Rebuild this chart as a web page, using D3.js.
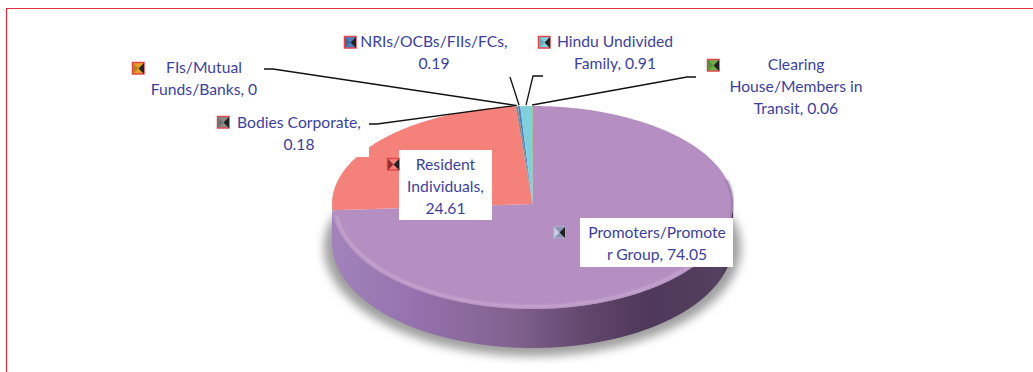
<!DOCTYPE html>
<html>
<head>
<meta charset="utf-8">
<style>
  html, body { margin: 0; padding: 0; background: #fff; }
  svg { display: block; }
  text { font-family: Lato, "Open Sans", sans-serif; }
</style>
<script src="https://cdn.jsdelivr.net/npm/d3@7"></script>
</head>
<body>
<svg id="chart"></svg>
<script>
const categories = ['Promoters/Promoter Group', 'Resident Individuals', 'FIs/Mutual Funds/Banks', 'Bodies Corporate', 'NRIs/OCBs/FIIs/FCs', 'Hindu Undivided Family', 'Clearing House/Members in Transit'];
const values = [74.05, 24.61, 0, 0.18, 0.19, 0.91, 0.06];
const labelLines = [
  ['Promoters/Promote', 'r Group, 74.05'],
  ['Resident', 'Individuals,', '24.61'],
  ['FIs/Mutual', 'Funds/Banks, 0'],
  ['Bodies Corporate,', '0.18'],
  ['NRIs/OCBs/FIIs/FCs,', '0.19'],
  ['Hindu Undivided', 'Family, 0.91'],
  ['Clearing', 'House/Members in', 'Transit, 0.06']
];

const colors = ['#b58fc2', '#f4817a', '#e8a020', '#8a8a8a', '#4f7fbd', '#7fd0dc', '#6fb04a'];
const width = 1033;
const height = 372;

// pie shape, the far half is a bit flatter than the near half
const cx = 532.5, cy = 204, rx = 200.5, ryFar = 98, ryNear = 105, depth = 39;

// layout of the labels: text centre, first baseline, white box, key, leader elbow
const labelLayout = [
  { x: 657, y: 238, box: [580, 218, 153, 49], key: [553, 226] },
  { x: 445.5, y: 170, box: [399, 150, 93, 70], key: [387, 158] },
  { x: 204, y: 73, key: [132, 62], leader: [[264, 69], [273, 69]] },
  { x: 299, y: 128, box: [215, 112, 154, 45], key: [217, 116], leader: [[369, 124], [377, 124]] },
  { x: 434, y: 47, key: [344, 36], leader: [[510, 77]] },
  { x: 615, y: 47, key: [538, 36], leader: [[543, 76], [533, 76]] },
  { x: 796, y: 70, key: [707, 59], leader: [[696, 77], [687, 77]] }
];

const svg = d3.select('#chart').attr('width', width).attr('height', height);
const defs = svg.append('defs');

defs.append('filter').attr('id', 'shadowBlur')
  .attr('filterUnits', 'userSpaceOnUse')
  .attr('x', 280).attr('y', 150).attr('width', 510).attr('height', 222)
  .append('feGaussianBlur').attr('stdDeviation', 5);
defs.append('filter').attr('id', 'blur1')
  .attr('x', '-5%').attr('y', '-20%').attr('width', '110%').attr('height', '140%')
  .append('feGaussianBlur').attr('stdDeviation', 1);
defs.append('filter').attr('id', 'soft')
  .attr('x', '-20%').attr('y', '-20%').attr('width', '140%').attr('height', '140%')
  .append('feGaussianBlur').attr('stdDeviation', 0.5);

const wallGrad = defs.append('linearGradient').attr('id', 'wall');
[[0, '#a283bb'], [0.2, '#9572ae'], [0.45, '#81628f'], [0.62, '#64496f'], [0.78, '#4f3859'], [0.97, '#54405f'], [1, '#3f2f4a']]
  .forEach(s => wallGrad.append('stop').attr('offset', s[0]).attr('stop-color', s[1]));

// angle in radians, clockwise from 12 o'clock
function pt(a, scale = 1, dy = 0) {
  const c = Math.cos(a);
  return [cx + rx * scale * Math.sin(a), cy + dy - (c > 0 ? ryFar : ryNear) * scale * c];
}

function rimPoints(a0, a1, scale = 1, dy = 0) {
  const n = Math.max(2, Math.ceil(Math.abs(a1 - a0) / 0.02));
  return d3.range(n + 1).map(i => pt(a0 + (a1 - a0) * i / n, scale, dy));
}

const line = d3.line();
const arcs = d3.pie().sort(null).value(d => d)(values);

// frame
svg.append('path')
  .attr('d', line([[6.5, height], [6.5, 8.5], [width, 8.5]]))
  .attr('fill', 'none').attr('stroke', '#e2313c').attr('stroke-width', 1.2);

// shadow under the pie
svg.append('path')
  .attr('d', line(rimPoints(Math.PI * 0.4, Math.PI * 1.6, 1.04, depth + 4)) + 'Z')
  .attr('fill', '#777').attr('opacity', 0.7).attr('filter', 'url(#shadowBlur)');

// wall, only the near half shows
const wallTop = rimPoints(Math.PI / 2, Math.PI * 1.5);
const wallBottom = rimPoints(Math.PI * 1.5, Math.PI / 2, 1, depth);
svg.append('path')
  .attr('d', line(wallTop.concat(wallBottom)) + 'Z')
  .attr('fill', 'url(#wall)');

// top face
svg.append('g').selectAll('path')
  .data(arcs)
  .join('path')
  .attr('d', d => line([[cx, cy]].concat(rimPoints(d.startAngle, d.endAngle))) + 'Z')
  .attr('fill', (d, i) => colors[i]);

// bevel highlight along the near rim
svg.append('path')
  .attr('d', line(rimPoints(Math.PI * 0.62, Math.PI * 1.46, 0.985, -1)))
  .attr('fill', 'none').attr('stroke', '#d9bfdc').attr('stroke-width', 1.6)
  .attr('opacity', 0.75).attr('filter', 'url(#blur1)');
// dark lip at the right hand edge
svg.append('path')
  .attr('d', line(rimPoints(Math.PI * 0.42, Math.PI * 0.6)))
  .attr('fill', 'none').attr('stroke', '#6d5379').attr('stroke-width', 2)
  .attr('opacity', 0.6).attr('filter', 'url(#blur1)');

// leader lines end on the rim at the middle of the wedge
const leaders = svg.append('g');
arcs.forEach((d, i) => {
  const lay = labelLayout[i];
  if (!lay.leader) return;
  const end = pt((d.startAngle + d.endAngle) / 2, 1, -1);
  leaders.append('path')
    .attr('d', line(lay.leader.concat([end])))
    .attr('fill', 'none').attr('stroke', '#111').attr('stroke-width', 1.3);
});

// white label boxes
svg.append('g').selectAll('rect')
  .data(labelLayout.filter(l => l.box))
  .join('rect')
  .attr('x', d => d.box[0]).attr('y', d => d.box[1])
  .attr('width', d => d.box[2]).attr('height', d => d.box[3])
  .attr('fill', '#fff');

// legend keys
const keys = svg.append('g').selectAll('g')
  .data(labelLayout)
  .join('g')
  .attr('filter', 'url(#soft)')
  .attr('transform', d => `translate(${d.key[0]},${d.key[1]})`);
keys.append('rect')
  .attr('x', 0.5).attr('y', 0.5).attr('width', 11.5).attr('height', 11.5)
  .attr('fill', (d, i) => i === 0 ? '#8f93b8' : colors[i])
  .attr('stroke', (d, i) => i === 0 ? '#a9a6c6' : '#e0474c')
  .attr('stroke-width', 1.5);
keys.append('path')
  .attr('d', line([[12, 1], [6.5, 6.5], [12, 12]]) + 'Z')
  .attr('fill', '#222');
keys.append('path')
  .attr('d', line([[1, 1], [6.5, 6.5], [1, 12]]) + 'Z')
  .attr('fill', (d, i) => i === 0 ? '#c9cbe0' : d3.color(i === 1 ? '#b33' : colors[i]).darker(0.6));

// label text
svg.append('g').selectAll('text')
  .data(labelLayout)
  .join('text')
  .attr('text-anchor', 'middle')
  .attr('font-size', 15.7)
  .attr('fill', '#3d3f9d')
  .each(function(d, i) {
    d3.select(this).selectAll('tspan')
      .data(labelLines[i])
      .join('tspan')
      .attr('x', d.x)
      .attr('y', (t, j) => d.y + j * 21.8)
      .text(t => t);
  });
</script>
</body>
</html>
